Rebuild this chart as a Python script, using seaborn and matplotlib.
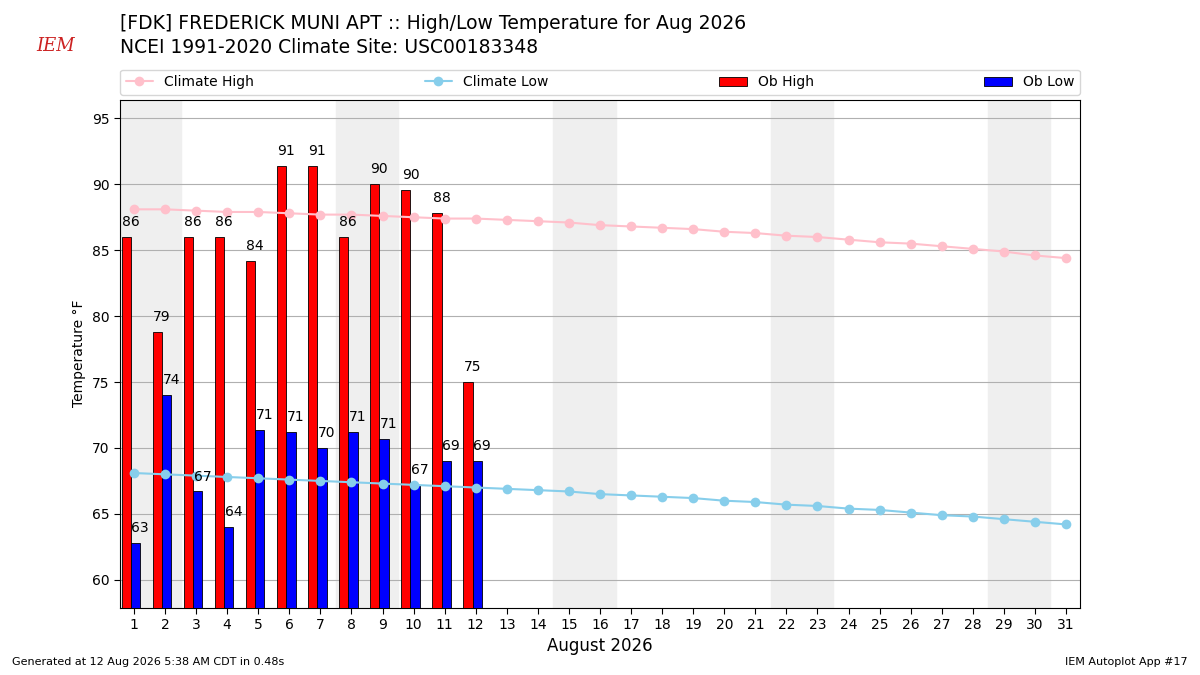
import matplotlib
matplotlib.use("Agg")
import matplotlib.pyplot as plt
import seaborn as sns
import numpy as np
import pandas as pd

days = list(range(1, 32))
clim_high = [88.1, 88.1, 88.0, 87.9, 87.9, 87.8, 87.7, 87.7, 87.6, 87.5, 87.4, 87.4, 87.3, 87.2, 87.1, 86.9,
             86.8, 86.7, 86.6, 86.4, 86.3, 86.1, 86.0, 85.8, 85.6, 85.5, 85.3, 85.1, 84.9, 84.6, 84.4]
clim_low = [68.1, 68.0, 67.9, 67.8, 67.7, 67.6, 67.5, 67.4, 67.3, 67.2, 67.1, 67.0, 66.9, 66.8, 66.7, 66.5,
            66.4, 66.3, 66.2, 66.0, 65.9, 65.7, 65.6, 65.4, 65.3, 65.1, 64.9, 64.8, 64.6, 64.4, 64.2]
ob_days = list(range(1, 13))
ob_high = [86, 78.8, 86, 86, 84.2, 91.4, 91.4, 86, 90, 89.6, 87.8, 75]
ob_low = [62.8, 74, 66.7, 64, 71.4, 71.2, 70, 71.2, 70.7, 67.2, 69, 69]
weekends = [1, 8, 15, 22, 29]

sns.set_style("white")
plt.rcParams.update({"text.color": "black", "axes.labelcolor": "black",
                     "xtick.color": "black", "ytick.color": "black"})
fig = plt.figure(figsize=(12, 6.75), dpi=100)
ax = fig.add_axes([0.1, 0.1, 0.8, 0.752])

for w in weekends:
    ax.axvspan(w - 0.5, w + 1.5, color="#efefef", zorder=0)

ax.bar(np.array(ob_days) - 0.25, ob_high, width=0.3, color="red", edgecolor="k", lw=0.6, label="Ob High", zorder=3)
ax.bar(np.array(ob_days) + 0.05, ob_low, width=0.3, color="blue", edgecolor="k", lw=0.6, label="Ob Low", zorder=3)
for d, h, l in zip(ob_days, ob_high, ob_low):
    ax.text(d - 0.1, h + 0.6, f"{h:.0f}", ha="center", va="bottom", fontsize=10, zorder=5)
    ax.text(d + 0.2, l + 0.6, f"{l:.0f}", ha="center", va="bottom", fontsize=10, zorder=5)

df = pd.DataFrame({"day": days, "high": clim_high, "low": clim_low})
sns.lineplot(data=df, x="day", y="high", ax=ax, color="pink", marker="o", markersize=7, markeredgewidth=0, lw=1.5, label="Climate High", zorder=4)
sns.lineplot(data=df, x="day", y="low", ax=ax, color="skyblue", marker="o", markersize=7, markeredgewidth=0, lw=1.5, label="Climate Low", zorder=4)

ax.set_xlim(0.55, 31.45)
ax.set_ylim(57.9, 96.4)
ax.set_xticks(days)
ax.set_yticks(range(60, 96, 5))
ax.yaxis.grid(True, color="#b0b0b0", lw=0.8)
ax.set_axisbelow(True)
ax.tick_params(axis="both", labelsize=10, length=4, direction="out", bottom=True, left=True)
for s in ax.spines.values():
    s.set_color("k"); s.set_linewidth(0.8)
ax.set_xlabel("August 2026", fontsize=12)
ax.set_ylabel("Temperature °F", fontsize=10)

handles, labels = ax.get_legend_handles_labels()
order = [labels.index(n) for n in ["Climate High", "Climate Low", "Ob High", "Ob Low"]]
ax.legend([handles[i] for i in order], [labels[i] for i in order], ncol=4, mode="expand",
          loc="lower left", bbox_to_anchor=(0, 1.01, 1, 0.05), borderaxespad=0, fontsize=10, frameon=True)

fig.text(0.1, 0.965, "[FDK] FREDERICK MUNI APT :: High/Low Temperature for Aug 2026", fontsize=13.5, va="center")
fig.text(0.1, 0.93, "NCEI 1991-2020 Climate Site: USC00183348", fontsize=13.5, va="center")
fig.text(0.01, 0.015, "Generated at 12 Aug 2026 5:38 AM CDT in 0.48s", fontsize=8)
fig.text(0.99, 0.015, "IEM Autoplot App #17", fontsize=8, ha="right")
fig.text(0.03, 0.925, "IEM", fontsize=13, color="#cc2222", style="italic", family="serif")

fig.savefig("out.png", dpi=100)
